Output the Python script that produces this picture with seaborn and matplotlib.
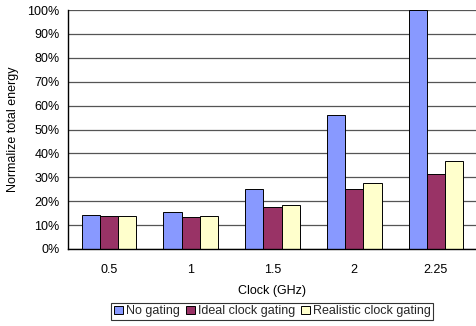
import numpy as np
import pandas as pd
import matplotlib
matplotlib.use("Agg")
import matplotlib.pyplot as plt
import seaborn as sns
from matplotlib.ticker import FixedLocator, PercentFormatter

# Clock frequencies and normalized total energy (%) for each gating scheme
clocks = ["0.5", "1", "1.5", "2", "2.25"]
no_gating = [14.1, 15.4, 25.0, 56.2, 100.0]
ideal_gating = [13.6, 13.5, 17.4, 25.2, 31.4]
realistic_gating = [13.7, 13.7, 18.3, 27.6, 36.7]
series_names = ["No gating", "Ideal clock gating", "Realistic clock gating"]
colors = ["#8899FF", "#993366", "#FFFFCC"]

df = pd.DataFrame({
    "Clock": clocks * 3,
    "Energy": no_gating + ideal_gating + realistic_gating,
    "Scheme": [s for s in series_names for _ in clocks],
})

sns.set_style("white")
plt.rcParams["font.family"] = ["Liberation Sans", "DejaVu Sans"]
FS = 9

fig = plt.figure(figsize=(4.77, 3.26), dpi=100)
ax = fig.add_axes([0.1426, 0.2362, 0.857, 0.7331])

sns.barplot(data=df, x="Clock", y="Energy", hue="Scheme", order=clocks,
            hue_order=series_names, palette=colors, width=0.67,
            edgecolor="black", linewidth=0.7, saturation=1, ax=ax)

ax.set_xlim(-0.5, len(clocks) - 0.5)
ax.set_ylim(0, 100)
ax.yaxis.set_major_locator(FixedLocator(np.arange(0, 101, 10)))
ax.yaxis.set_major_formatter(PercentFormatter(decimals=0))
ax.set_axisbelow(True)
ax.grid(axis="y", color="#555555", linewidth=0.9)
ax.grid(axis="x", visible=False)

for side in ["top", "right"]:
    ax.spines[side].set_visible(False)
for side in ["left", "bottom"]:
    ax.spines[side].set_color("black")
    ax.spines[side].set_linewidth(1.0)

ax.tick_params(axis="y", which="major", length=3, width=0.8, color="black",
               direction="out", labelsize=FS, pad=3, labelcolor="black")
ax.tick_params(axis="x", which="major", length=0, labelsize=FS, pad=11,
               labelcolor="black")
ax.xaxis.set_minor_locator(FixedLocator(np.arange(0.5, len(clocks) - 1, 1.0)))
ax.tick_params(axis="x", which="minor", length=3, width=0.8, color="black",
               direction="in")

ax.set_xlabel("Clock (GHz)", fontsize=FS, labelpad=6, color="black")
ax.set_ylabel("Normalize total energy", fontsize=FS, labelpad=6, color="black")

handles, labels = ax.get_legend_handles_labels()
leg = ax.legend(handles, labels, loc="upper center", bbox_to_anchor=(0.5, -0.225),
                ncol=3, frameon=True, fancybox=False, edgecolor="black",
                fontsize=FS, handlelength=0.7, handleheight=0.7,
                handletextpad=0.25, columnspacing=0.5, borderpad=0.2,
                borderaxespad=0)
leg.get_frame().set_linewidth(0.8)

fig.savefig("out.png", dpi=100)
